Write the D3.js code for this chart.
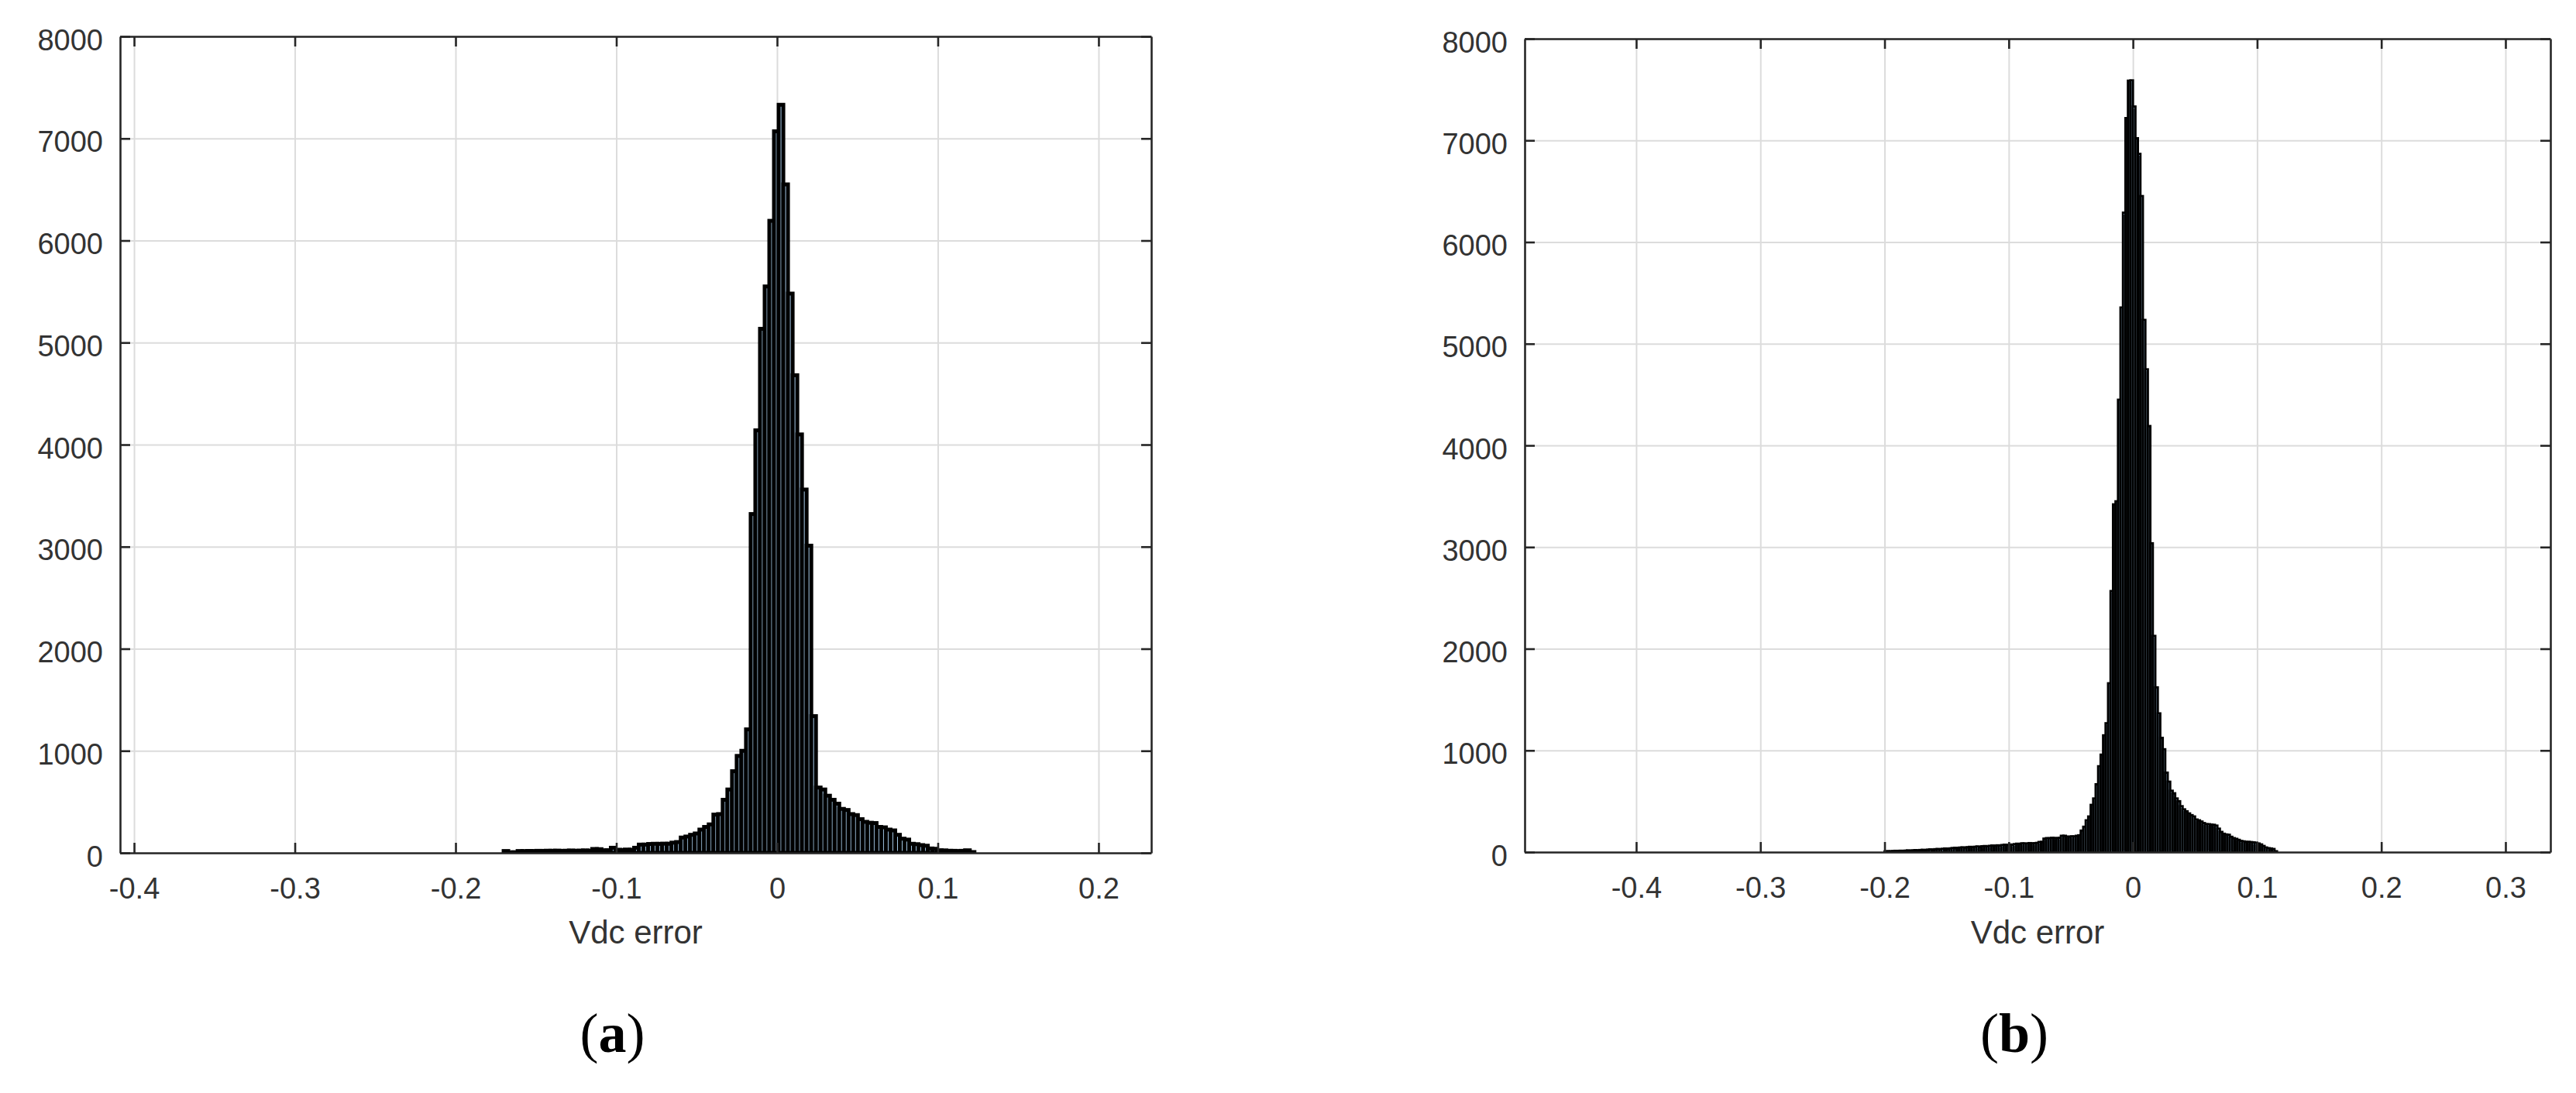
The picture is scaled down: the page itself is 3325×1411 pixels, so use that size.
<!DOCTYPE html>
<html>
<head>
<meta charset="utf-8">
<script src="https://cdn.jsdelivr.net/npm/d3@7"></script>
<style>
    body { margin: 0; background: #ffffff; }
</style>
</head>
<body>
<div id="container"></div>
<script>

// shared y axis
var yLim = [0, 8000];
var yTicks = [0, 1000, 2000, 3000, 4000, 5000, 6000, 7000, 8000];
var xLabel = "Vdc error";

// panel (a)
var xLimA = [-0.4087, 0.2328];
var xTicksA = [-0.4, -0.3, -0.2, -0.1, 0, 0.1, 0.2];
var binStartA = -0.1701;
var binWidthA = 0.0029;
var countsA = [
    18, 5, 6, 18, 17, 19, 18, 20, 19, 21,
    20, 22, 19, 21, 23, 20, 22, 24, 21, 38,
    36, 25, 26, 50, 30, 28, 32, 30, 50, 81,
    81, 87, 89, 88, 90, 89, 100, 106, 150, 160,
    177, 190, 228, 254, 279, 375, 380, 520, 621, 800,
    950, 1000, 1210, 3320, 4140, 5135, 5550, 6193, 7070, 7330,
    6550, 5480, 4680, 4100, 3560, 3010, 1340, 640, 621, 560,
    520, 482, 431, 420, 380, 370, 330, 304, 295, 292,
    254, 250, 228, 220, 177, 139, 130, 89, 85, 76,
    70, 43, 40, 25, 24, 20, 20, 18, 20, 25,
    8
];

// panel (b)
var xLimB = [-0.4898, 0.3362];
var xTicksB = [-0.4, -0.3, -0.2, -0.1, 0, 0.1, 0.2, 0.3];
var binStartB = -0.2;
var binWidthB = 0.002;
var countsB = [
    6, 9, 7, 10, 12, 9, 13, 11, 14, 16,
    13, 17, 19, 16, 20, 22, 19, 24, 26, 23,
    28, 30, 27, 32, 35, 31, 36, 39, 42, 38,
    44, 46, 43, 48, 51, 47, 52, 55, 50, 57,
    59, 55, 61, 64, 60, 66, 63, 69, 72, 67,
    74, 70, 78, 82, 80, 86, 84, 83, 88, 85,
    87, 90, 99, 100, 132, 137, 135, 140, 138, 136,
    140, 160, 160, 152, 150, 155, 152, 160, 165, 211,
    249, 312, 350, 464, 527, 667, 844, 958, 1148, 1267,
    1660, 2567, 3420, 3450, 4449, 5356, 6289, 7219, 7587, 7590,
    7333, 7021, 6867, 6452, 5234, 4748, 4190, 3037, 2126, 1620,
    1364, 1123, 1011, 781, 692, 603, 578, 527, 500, 451,
    420, 401, 380, 363, 350, 320, 312, 300, 285, 274,
    274, 270, 268, 260, 230, 198, 180, 173, 170, 150,
    137, 130, 120, 109, 105, 100, 100, 98, 95, 92,
    84, 75, 60, 45, 38, 35, 30, 8
];


var axisColor = "#262626";
var tickFont = "'Liberation Sans', Arial, Helvetica, sans-serif";

var svg = d3.select("#container")
    .append("svg")
    .attr("width", 3325)
    .attr("height", 1411);


var Histogram = function (id, box, xLim, xTicks, binStart, binWidth, counts, edgeWidth, label)
{
    this.id = id;
    this.box = box;
    this.xLim = xLim;
    this.xTicks = xTicks;
    this.binStart = binStart;
    this.binWidth = binWidth;
    this.counts = counts;
    this.edgeWidth = edgeWidth;
    this.label = label;
};

Histogram.prototype.draw = function ()
{
    var box = this.box;
    var width = box.right - box.left,
        height = box.bottom - box.top;

    var g = svg.append("g")
        .attr("transform", "translate(" + box.left + "," + box.top + ")");

    var x = d3.scaleLinear().domain(this.xLim).range([0, width]);
    var y = d3.scaleLinear().domain(yLim).range([height, 0]);

    // grid behind the bars
    var gx = g.append("g")
        .attr("transform", "translate(0," + height + ")")
        .call(d3.axisBottom(x).tickValues(this.xTicks).tickSize(-height).tickFormat(""));
    var gy = g.append("g")
        .call(d3.axisLeft(y).tickValues(yTicks).tickSize(-width).tickFormat(""));
    [gx, gy].forEach(function (a)
    {
        a.select(".domain").remove();
        a.selectAll("line").attr("stroke", "#dcdcdc").attr("stroke-width", 2);
    });

    // bars
    var start = this.binStart, w = this.binWidth;
    var bins = this.counts.map(function (c, i)
    {
        return { x0: start + i * w, x1: start + (i + 1) * w, n: c };
    }).filter(function (d) { return d.n > 0; });

    g.append("clipPath")
        .attr("id", "clip-" + this.id)
        .append("rect")
        .attr("width", width)
        .attr("height", height);

    g.append("g")
        .attr("clip-path", "url(#clip-" + this.id + ")")
        .selectAll("rect")
        .data(bins)
        .enter()
        .append("rect")
        .attr("x", function (d) { return x(d.x0); })
        .attr("width", function (d) { return x(d.x1) - x(d.x0); })
        .attr("y", function (d) { return y(d.n); })
        .attr("height", function (d) { return height - y(d.n); })
        .attr("fill", "#a4c8e6")
        .attr("stroke", "#000000")
        .attr("stroke-width", this.edgeWidth);

    // box with inward ticks on all four sides
    var bottom = g.append("g")
        .attr("transform", "translate(0," + height + ")")
        .call(d3.axisBottom(x).tickValues(this.xTicks).tickSize(-13).tickSizeOuter(0)
            .tickPadding(32).tickFormat(function (d) { return String(d); }));
    var top = g.append("g")
        .call(d3.axisTop(x).tickValues(this.xTicks).tickSize(-13).tickSizeOuter(0).tickFormat(""));
    var left = g.append("g")
        .call(d3.axisLeft(y).tickValues(yTicks).tickSize(-13).tickSizeOuter(0)
            .tickPadding(22).tickFormat(function (d) { return String(d); }));
    var right = g.append("g")
        .attr("transform", "translate(" + width + ",0)")
        .call(d3.axisRight(y).tickValues(yTicks).tickSize(-13).tickSizeOuter(0).tickFormat(""));

    [bottom, top, left, right].forEach(function (a)
    {
        a.attr("font-family", tickFont).attr("font-size", 38);
        a.select(".domain").attr("stroke", axisColor).attr("stroke-width", 2.6);
        a.selectAll(".tick line").attr("stroke", axisColor).attr("stroke-width", 2.6);
        a.selectAll("text").attr("fill", "#333333");
    });
    left.selectAll("text").attr("dy", "0.45em");

    // axis label
    g.append("text")
        .attr("x", width / 2)
        .attr("y", 1218 - box.top)
        .attr("text-anchor", "middle")
        .attr("font-family", tickFont)
        .attr("font-size", 42)
        .attr("fill", "#333333")
        .text(xLabel);

    // sub-figure label
    var t = g.append("text")
        .attr("x", width / 2 - 30)
        .attr("y", 1358 - box.top)
        .attr("text-anchor", "middle")
        .attr("font-family", "'Liberation Serif', 'Times New Roman', serif")
        .attr("font-size", 72)
        .attr("fill", "#000000");
    t.append("tspan").text("(");
    t.append("tspan").attr("font-weight", "bold").text(this.label);
    t.append("tspan").text(")");
};


var histA = new Histogram("a", { left: 155, top: 47, right: 1486, bottom: 1101 },
    xLimA, xTicksA, binStartA, binWidthA, countsA, 5, "a");
var histB = new Histogram("b", { left: 1968, top: 50, right: 3292, bottom: 1100 },
    xLimB, xTicksB, binStartB, binWidthB, countsB, 3, "b");

histA.draw();
histB.draw();

</script>
</body>
</html>
